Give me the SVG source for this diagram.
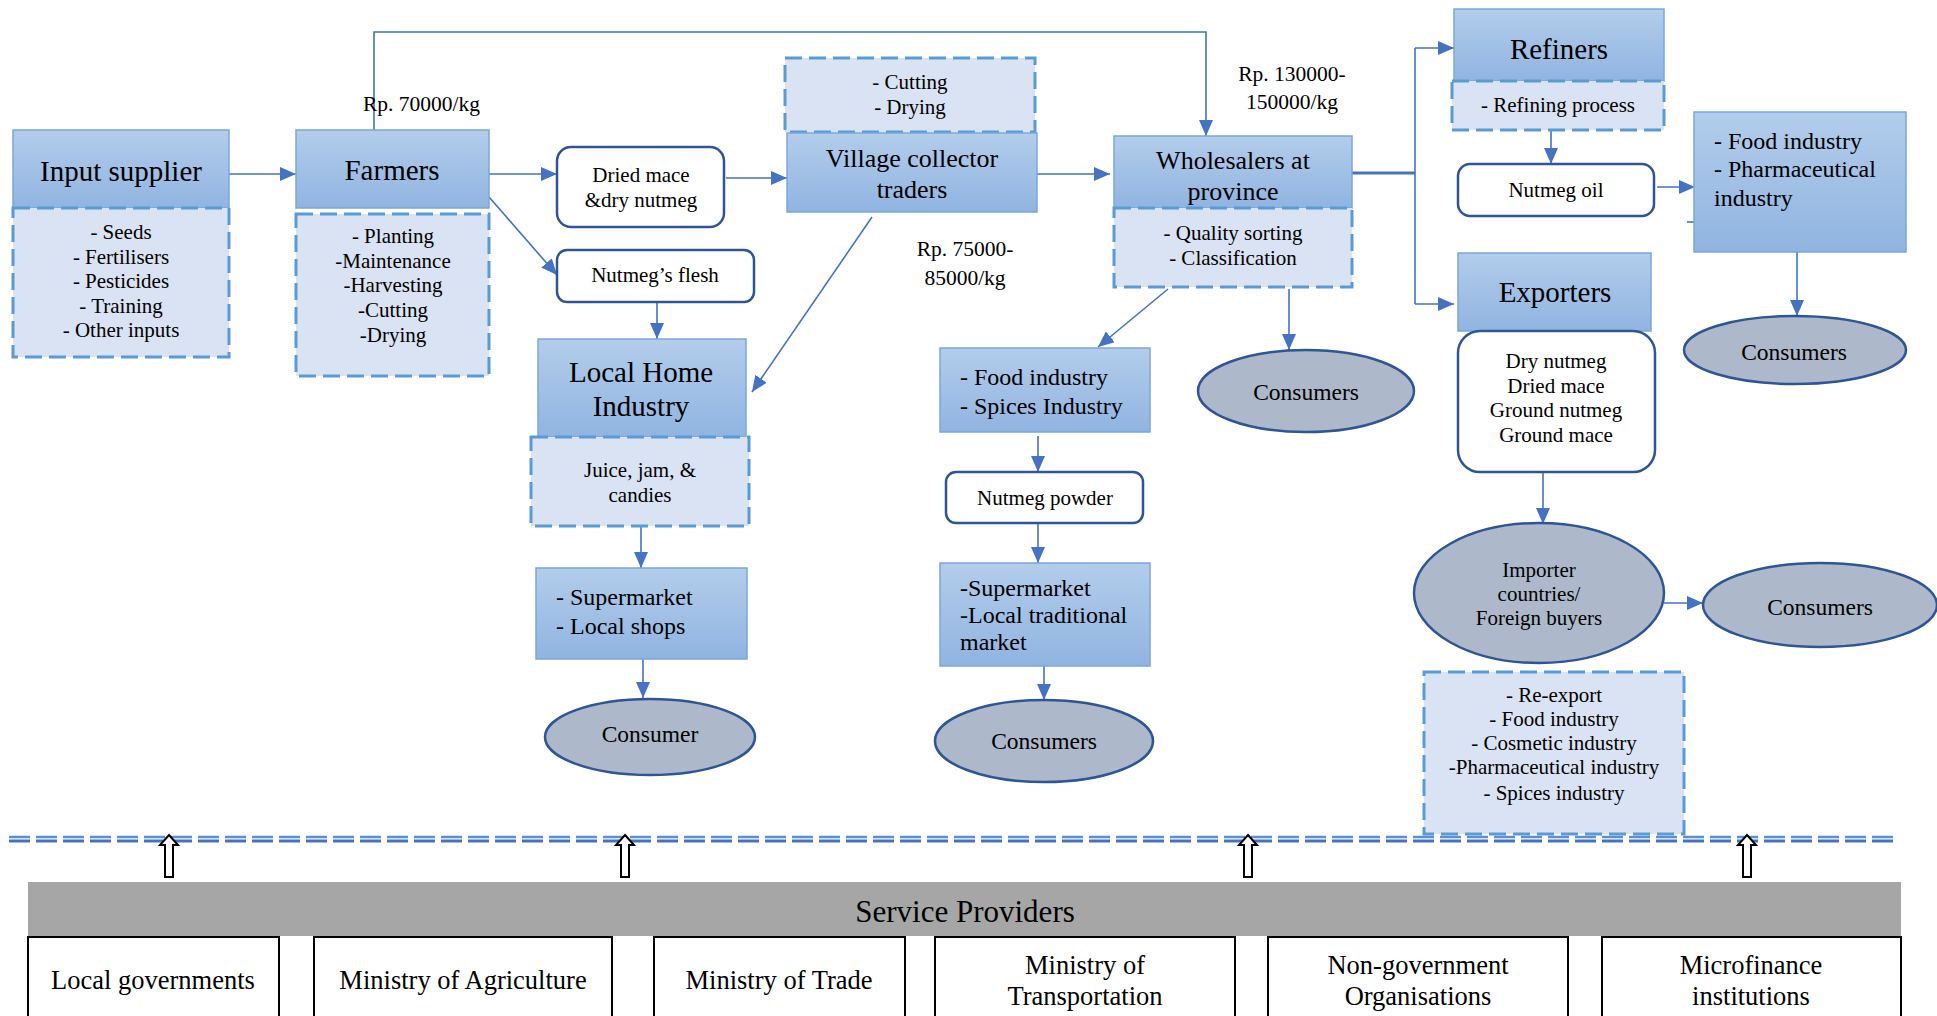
<svg xmlns="http://www.w3.org/2000/svg" width="1937" height="1016" viewBox="0 0 1937 1016">
<defs>
<linearGradient id="hdr" x1="0" y1="0" x2="0" y2="1">
<stop offset="0" stop-color="#B3CDEB"/>
<stop offset="1" stop-color="#90B4E1"/>
</linearGradient>
<marker id="ah" markerUnits="userSpaceOnUse" markerWidth="16" markerHeight="14" refX="16" refY="7" orient="auto">
<path d="M0,0 L16,7 L0,14 Z" fill="#4472C4"/>
</marker>
<style>
text{font-family:"Liberation Serif","Times New Roman",serif;fill:#000;}
.hdr{fill:url(#hdr);stroke:#7BA7DC;stroke-width:1.5;}
.dash{fill:#DAE3F3;stroke:#5B9BD5;stroke-width:3;stroke-dasharray:17 7;}
.rbox{fill:#fff;stroke:#2F5597;stroke-width:2.5;}
.ell{fill:#ADB9CA;stroke:#2F5597;stroke-width:2.5;}
.sp{fill:#fff;stroke:#000;stroke-width:2;}
.c{fill:none;stroke:#4472C4;stroke-width:1.6;}
.a{marker-end:url(#ah);}
.t29{font-size:29px;text-anchor:middle;}
.t26{font-size:26px;text-anchor:middle;}
.t21{font-size:21px;text-anchor:middle;}
.t21s{font-size:21.5px;}
.t24{font-size:24px;}
.t23{font-size:23.5px;text-anchor:middle;}
.t26b{font-size:26.5px;text-anchor:middle;}
</style>
</defs>

<g id="connectors">
<line class="c a" x1="229" y1="174" x2="296" y2="174"/>
<line class="c a" x1="489" y1="174" x2="557" y2="174"/>
<line class="c a" x1="489" y1="197" x2="557" y2="275"/>
<line class="c a" x1="726" y1="178" x2="787" y2="178"/>
<line class="c a" x1="657" y1="302" x2="657" y2="339"/>
<line class="c a" x1="872" y1="217" x2="752" y2="392"/>
<polyline class="c a" points="374,130 374,32 1206,32 1206,136"/>
<line class="c a" x1="1006" y1="174" x2="1110" y2="174"/>
<line class="c" x1="1352" y1="173" x2="1415" y2="173" style="stroke-width:3"/>
<line class="c" x1="1415" y1="48" x2="1415" y2="304"/>
<line class="c a" x1="1415" y1="48" x2="1454" y2="48"/>
<line class="c a" x1="1415" y1="304" x2="1454" y2="304"/>
<line class="c a" x1="1551" y1="130" x2="1551" y2="164"/>
<line class="c a" x1="1657" y1="187" x2="1695" y2="187"/>
<line class="c" x1="1687" y1="222" x2="1694" y2="222"/>
<line class="c a" x1="1797" y1="252" x2="1797" y2="316"/>
<line class="c a" x1="1543" y1="472" x2="1543" y2="524"/>
<line class="c a" x1="1664" y1="603" x2="1703" y2="603"/>
<line class="c a" x1="1168" y1="289" x2="1098" y2="347"/>
<line class="c a" x1="1289" y1="289" x2="1289" y2="350"/>
<line class="c a" x1="1038" y1="436" x2="1038" y2="472"/>
<line class="c a" x1="1038" y1="523" x2="1038" y2="563"/>
<line class="c a" x1="1044" y1="666" x2="1044" y2="700"/>
<line class="c a" x1="641" y1="526" x2="641" y2="568"/>
<line class="c a" x1="643" y1="659" x2="643" y2="698"/>
</g>

<g id="input-supplier">
<rect class="hdr" x="13" y="130" width="216" height="78"/>
<text class="t29" x="121" y="181">Input supplier</text>
<rect class="dash" x="13" y="208" width="216" height="149"/>
<text class="t21" x="121" y="239">- Seeds</text>
<text class="t21" x="121" y="264">- Fertilisers</text>
<text class="t21" x="121" y="288">- Pesticides</text>
<text class="t21" x="121" y="313">- Training</text>
<text class="t21" x="121" y="337">- Other inputs</text>
</g>

<g id="farmers">
<rect class="hdr" x="296" y="130" width="193" height="78"/>
<text class="t29" x="392" y="180">Farmers</text>
<rect class="dash" x="296" y="214" width="193" height="162"/>
<text class="t21" x="393" y="243">- Planting</text>
<text class="t21" x="393" y="268">-Maintenance</text>
<text class="t21" x="393" y="292">-Harvesting</text>
<text class="t21" x="393" y="317">-Cutting</text>
<text class="t21" x="393" y="342">-Drying</text>
</g>

<g id="price-70000">
<text class="t21s" x="363" y="111">Rp. 70000/kg</text>
</g>

<g id="dried-mace">
<rect class="rbox" x="557" y="147" width="167" height="80" rx="14"/>
<text class="t21" x="641" y="182">Dried mace</text>
<text class="t21" x="641" y="207">&amp;dry nutmeg</text>
</g>

<g id="nutmeg-flesh">
<rect class="rbox" x="557" y="250" width="197" height="52" rx="10"/>
<text class="t21" x="655" y="282">Nutmeg’s flesh</text>
</g>

<g id="village-collector">
<rect class="dash" x="785" y="58" width="250" height="74"/>
<text class="t21" x="910" y="89">- Cutting</text>
<text class="t21" x="910" y="114">- Drying</text>
<rect class="hdr" x="787" y="133" width="250" height="79"/>
<text class="t26" x="912" y="167">Village collector</text>
<text class="t26" x="912" y="198">traders</text>
</g>

<g id="price-75000">
<text class="t21s" x="965" y="256" text-anchor="middle">Rp. 75000-</text>
<text class="t21s" x="965" y="285" text-anchor="middle">85000/kg</text>
</g>

<g id="local-home-industry">
<rect class="hdr" x="538" y="339" width="208" height="98"/>
<text class="t29" x="641" y="382">Local Home</text>
<text class="t29" x="641" y="416">Industry</text>
<rect class="dash" x="531" y="437" width="218" height="89"/>
<text class="t21" x="640" y="477">Juice, jam, &amp;</text>
<text class="t21" x="640" y="502">candies</text>
</g>

<g id="supermarket-local">
<rect class="hdr" x="536" y="568" width="211" height="91"/>
<text class="t24" x="556" y="605">- Supermarket</text>
<text class="t24" x="556" y="634">- Local shops</text>
</g>

<g id="consumer-left">
<ellipse class="ell" cx="650" cy="737" rx="105" ry="38"/>
<text class="t23" x="650" y="742">Consumer</text>
</g>

<g id="wholesalers">
<rect class="hdr" x="1114" y="136" width="238" height="72"/>
<text class="t26" x="1233" y="169">Wholesalers at</text>
<text class="t26" x="1233" y="200">province</text>
<rect class="dash" x="1114" y="208" width="238" height="79"/>
<text class="t21" x="1233" y="240">- Quality sorting</text>
<text class="t21" x="1233" y="265">- Classification</text>
</g>

<g id="price-130000">
<text class="t21s" x="1292" y="81" text-anchor="middle">Rp. 130000-</text>
<text class="t21s" x="1292" y="109" text-anchor="middle">150000/kg</text>
</g>

<g id="food-spices">
<rect class="hdr" x="940" y="348" width="210" height="84"/>
<text class="t24" x="960" y="385">- Food industry</text>
<text class="t24" x="960" y="414">- Spices Industry</text>
</g>

<g id="nutmeg-powder">
<rect class="rbox" x="946" y="472" width="197" height="51" rx="10"/>
<text class="t21" x="1045" y="505">Nutmeg powder</text>
</g>

<g id="supermarket-traditional">
<rect class="hdr" x="940" y="563" width="210" height="103"/>
<text class="t24" x="960" y="596">-Supermarket</text>
<text class="t24" x="960" y="623">-Local traditional</text>
<text class="t24" x="960" y="650">market</text>
</g>

<g id="consumers-middle-bottom">
<ellipse class="ell" cx="1044" cy="741" rx="109" ry="41"/>
<text class="t23" x="1044" y="749">Consumers</text>
</g>

<g id="consumers-wholesale">
<ellipse class="ell" cx="1306" cy="391" rx="108" ry="41"/>
<text class="t23" x="1306" y="400">Consumers</text>
</g>

<g id="refiners">
<rect class="hdr" x="1454" y="9" width="210" height="72"/>
<text class="t29" x="1559" y="59">Refiners</text>
<rect class="dash" x="1452" y="81" width="212" height="49"/>
<text class="t21" x="1558" y="112">- Refining process</text>
</g>

<g id="nutmeg-oil">
<rect class="rbox" x="1458" y="164" width="196" height="52" rx="12"/>
<text class="t21" x="1556" y="197">Nutmeg oil</text>
</g>

<g id="food-pharma">
<rect class="hdr" x="1694" y="112" width="212" height="140"/>
<text class="t24" x="1714" y="149">- Food industry</text>
<text class="t24" x="1714" y="177">- Pharmaceutical</text>
<text class="t24" x="1714" y="206">industry</text>
</g>

<g id="consumers-refiners">
<ellipse class="ell" cx="1795" cy="350" rx="111" ry="34"/>
<text class="t23" x="1794" y="360">Consumers</text>
</g>

<g id="exporters">
<rect class="hdr" x="1458" y="253" width="193" height="78"/>
<text class="t29" x="1555" y="302">Exporters</text>
<rect class="rbox" x="1458" y="331" width="197" height="141" rx="22"/>
<text class="t21" x="1556" y="368">Dry nutmeg</text>
<text class="t21" x="1556" y="393">Dried mace</text>
<text class="t21" x="1556" y="417">Ground nutmeg</text>
<text class="t21" x="1556" y="442">Ground mace</text>
</g>

<g id="importer">
<ellipse class="ell" cx="1539" cy="593" rx="125" ry="70"/>
<text class="t21" x="1539" y="577">Importer</text>
<text class="t21" x="1539" y="601">countries/</text>
<text class="t21" x="1539" y="625">Foreign buyers</text>
</g>

<g id="consumers-importer">
<ellipse class="ell" cx="1820" cy="605" rx="117" ry="42"/>
<text class="t23" x="1820" y="615">Consumers</text>
</g>

<g id="re-export">
<rect class="dash" x="1424" y="672" width="260" height="162"/>
<text class="t21" x="1554" y="702">- Re-export</text>
<text class="t21" x="1554" y="726">- Food industry</text>
<text class="t21" x="1554" y="750">- Cosmetic industry</text>
<text class="t21" x="1554" y="774">-Pharmaceutical industry</text>
<text class="t21" x="1554" y="800">- Spices industry</text>
</g>

<g id="divider">
<line x1="9" y1="837" x2="1898" y2="837" stroke="#5B8FD6" stroke-width="2.5" stroke-dasharray="21 6"/>
<line x1="9" y1="841" x2="1898" y2="841" stroke="#4472C4" stroke-width="3" stroke-dasharray="21 6"/>
</g>

<g id="support-arrows" fill="#fff" stroke="#000" stroke-width="2">
<path d="M169,835 L178,845 L173,845 L173,877 L165,877 L165,845 L160,845 Z"/>
<path d="M625,835 L634,845 L629,845 L629,877 L621,877 L621,845 L616,845 Z"/>
<path d="M1248,835 L1257,845 L1252,845 L1252,877 L1244,877 L1244,845 L1239,845 Z"/>
<path d="M1747,835 L1756,845 L1751,845 L1751,877 L1743,877 L1743,845 L1738,845 Z"/>
</g>

<g id="service-providers">
<rect x="28" y="882" width="1873" height="54" fill="#A6A6A6"/>
<text x="965" y="922" style="font-size:31px;text-anchor:middle">Service Providers</text>
</g>

<g id="local-governments">
<rect class="sp" x="28" y="937" width="251" height="90"/>
<text class="t26b" x="153" y="989">Local governments</text>
</g>
<g id="ministry-agriculture">
<rect class="sp" x="314" y="937" width="298" height="90"/>
<text class="t26b" x="463" y="989">Ministry of Agriculture</text>
</g>
<g id="ministry-trade">
<rect class="sp" x="654" y="937" width="251" height="90"/>
<text class="t26b" x="779" y="989">Ministry of Trade</text>
</g>
<g id="ministry-transportation">
<rect class="sp" x="935" y="937" width="300" height="90"/>
<text class="t26b" x="1085" y="974">Ministry of</text>
<text class="t26b" x="1085" y="1005">Transportation</text>
</g>
<g id="ngo">
<rect class="sp" x="1268" y="937" width="300" height="90"/>
<text class="t26b" x="1418" y="974">Non-government</text>
<text class="t26b" x="1418" y="1005">Organisations</text>
</g>
<g id="microfinance">
<rect class="sp" x="1602" y="937" width="299" height="90"/>
<text class="t26b" x="1751" y="974">Microfinance</text>
<text class="t26b" x="1751" y="1005">institutions</text>
</g>
</svg>
